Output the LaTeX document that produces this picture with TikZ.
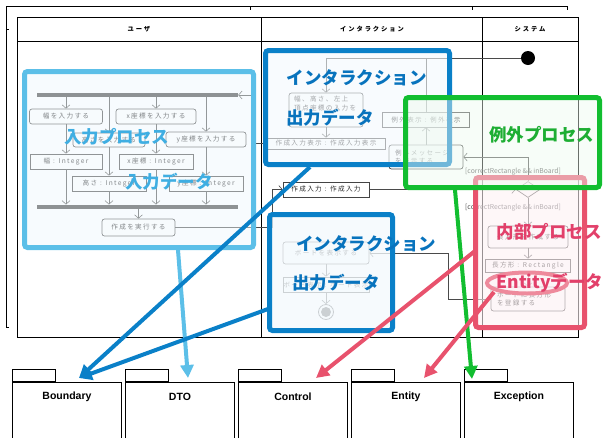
\documentclass[tikz,border=0pt]{standalone}
\usepackage{fontspec}
\newfontfamily\jp{Noto Sans CJK JP}
\newfontfamily\lsans{Liberation Sans}
\usetikzlibrary{arrows.meta,shapes.geometric,calc}
\definecolor{lblue}{HTML}{5CBFE8}
\definecolor{lbluet}{HTML}{3FAEE2}
\definecolor{lbfill}{HTML}{EEF7FC}
\definecolor{dblue}{HTML}{0A80C8}
\definecolor{dbluet}{HTML}{0873BD}
\definecolor{dbfill}{HTML}{F3F9FD}
\definecolor{grn}{HTML}{12BE30}
\definecolor{grnt}{HTML}{1DAE33}
\definecolor{gfill}{HTML}{EDFAEF}
\definecolor{pnk}{HTML}{E8526D}
\definecolor{pnkt}{HTML}{E2406A}
\definecolor{pfill}{HTML}{FDF1F4}
\definecolor{ellc}{HTML}{EE8A9C}
\definecolor{fl}{HTML}{4A4A4A}
\definecolor{bx}{HTML}{444444}
\definecolor{tx}{HTML}{2A2A2A}
\definecolor{barc}{HTML}{404040}
\definecolor{gtx}{HTML}{555555}
\begin{document}
\begin{tikzpicture}[x=1pt,y=-1pt,
  jps/.style={font=\jp\fontsize{6.6}{8.5}\selectfont\addfontfeature{LetterSpace=20}},
  act/.style={jps, draw=bx, line width=0.7pt, rounded corners=2.5pt, fill=white, text=tx, inner sep=0pt},
  obj/.style={jps, draw=bx, line width=0.7pt, fill=white, text=tx, inner sep=0pt},
  flow/.style={draw=fl, line width=0.6pt, -{Straight Barb[length=3.5pt,width=8pt]}},
  flowl/.style={draw=fl, line width=0.6pt},
  syncbar/.style={fill=barc, inner sep=0pt, minimum height=4.5pt},
  guard/.style={font=\jp\fontsize{6.8}{8}\selectfont, text=gtx, inner sep=0pt},
  hl/.style={line width=5pt, rounded corners=3pt, inner sep=0pt},
  bigl/.style={font=\jp\bfseries\fontsize{17.5}{18}\selectfont, inner sep=0pt},
  hdr/.style={font=\jp\bfseries\fontsize{6.3}{7}\selectfont\addfontfeature{LetterSpace=30}, inner sep=0pt},
  bigarrow/.style={line width=4pt, -{Triangle[length=13pt,width=13pt]}},
  pkg/.style={draw=black, line width=0.9pt, fill=white, inner sep=0pt},
  pkgl/.style={font=\lsans\bfseries\fontsize{10.5}{12}\selectfont, inner sep=0pt},
]
\useasboundingbox (0,0) rectangle (603,437);
% outer frame
\draw[line width=0.8pt] (9,327) -- (6,327) -- (6,6) -- (567,6) -- (567,10);
\draw[line width=0.8pt] (250,6) -- (250,10) (472,6) -- (472,10) (6,29) -- (9,29);
% swimlanes
\draw[line width=1pt] (17,17) rectangle (578,337);
\draw[line width=1pt] (17,41) -- (578,41) (261,17) -- (261,337) (482,17) -- (482,337);
\node[hdr] (hu) at (139,29) {ユーザ};
\node[hdr] (hi) at (372,29) {インタラクション};
\node[hdr] (hs) at (530,29) {システム};

% ---- user lane
\node[syncbar, minimum width=201pt] (fork) at (137.5,95) {};
\node[act, minimum width=73pt, minimum height=15pt] (w1) at (66,116.5) {幅を入力する};
\node[act, minimum width=72pt, minimum height=14pt] (h1) at (109,140) {高さを入力する};
\node[act, minimum width=80pt, minimum height=15pt] (x1) at (156,116.5) {x座標を入力する};
\node[act, minimum width=80pt, minimum height=15pt] (y1) at (206,139.5) {y座標を入力する};
\node[obj, minimum width=72pt, minimum height=15pt] (w2) at (66,161.5) {幅 : Integer};
\node[obj, minimum width=74pt, minimum height=15pt] (x2) at (156,161.5) {x座標 : Integer};
\node[obj, minimum width=74pt, minimum height=15pt] (h2) at (109,183.5) {高さ : Integer};
\node[obj, minimum width=74pt, minimum height=15pt] (y2) at (206,183.5) {y座標 : Integer};
\node[syncbar, minimum width=201pt] (join) at (137.5,207) {};
\node[act, minimum width=73pt, minimum height=17pt] (exec) at (138.5,227.5) {作成を実行する};

\foreach \b in {w1,h1,x1,y1}{\draw[flow] (\b.north |- fork.south) -- (\b.north);}
\draw[flow] (w1.south) -- (w2.north);
\draw[flow] (h1.south) -- (h2.north);
\draw[flow] (x1.south) -- (x2.north);
\draw[flow] (y1.south) -- (y2.north);
\foreach \b in {w2,h2,x2,y2}{\draw[flow] (\b.south) -- (\b.south |- join.north);}
\draw[flow] (exec.north |- join.south) -- (exec.north);

% ---- interaction lane
\node[circle, fill=black, minimum size=14pt, inner sep=0pt] (ini) at (528,58) {};
\node[act, minimum width=74pt, minimum height=34pt] (prompt) at (326,110) {};
\node[jps, text=tx, align=left, anchor=north west, inner sep=0pt] (prompttx) at (294,96) {幅、高さ、左上\\頂点座標の入力を};
\node[obj, minimum width=118pt, minimum height=11pt] (dispin) at (326,143.5) {作成入力表示 : 作成入力表示};
\node[obj, minimum width=86pt, minimum height=15pt] (cin) at (326,189.5) {作成入力 : 作成入力};
\node[obj, minimum width=87pt, minimum height=15pt] (edisp) at (426,119.5) {例外表示 : 例外表示};
\node[act, minimum width=74pt, minimum height=24pt, align=left, text width=62pt] (emsg) at (426,157) {例外メッセージ\\を表示する};
\node[act, minimum width=86pt, minimum height=22pt] (bshow) at (326,253) {ボードを表示する};
\node[obj, minimum width=86pt, minimum height=15pt] (bobj) at (326,284.5) {ボード表示 : ボード表示};
\node[circle, draw=barc, line width=0.8pt, minimum size=15pt, inner sep=0pt, fill=white] (fin) at (326,312) {};
\fill[barc] (fin.center) circle (5);

% ---- system lane
\node[diamond, draw=bx, line width=0.7pt, fill=white, minimum width=24pt, minimum height=16pt, inner sep=0pt, aspect=1.5] (dec) at (528,189.5) {};
\node[act, minimum width=80pt, minimum height=22pt] (rc) at (528,237) {長方形を作成する};
\node[obj, minimum width=85pt, minimum height=13pt] (robj) at (528,265.5) {長方形 : Rectangle};
\node[act, minimum width=74pt, minimum height=24pt, align=left, text width=62pt] (reg) at (528,299) {ボードに長方形\\を登録する};
\node[guard] (g1) at (513,172) {[correctRectangle \&\& inBoard]};
\node[guard] (g2) at (513,208) {[correctRectangle \&\& inBoard]};

% ---- flow edges
\draw[flow] (ini.west) -- (prompt.north |- ini.west) -- (prompt.north);
\draw[flowl] (edisp.north) -- (edisp.north |- ini.west);
\draw[flow] (prompt.south) -- (dispin.north);
\draw[flow] (dispin.west) -- (255,143.5) |- (fork.east);
\draw[flow] (exec.east) -- (272,227.5) |- (cin.west);
\draw[flow] (cin.east) -- (dec.west);
\draw[flow] (dec.north) |- (emsg.east);
\draw[flow] (emsg.north) -- (edisp.south);
\draw[flow] (dec.south) -- (rc.north);
\draw[flow] (rc.south) -- (robj.north);
\draw[flow] (robj.south) -- (reg.north);
\draw[flow] (reg.west) -- (448,299) |- (bshow.east);
\draw[flow] (bshow.south) -- (bobj.north);
\draw[flow] (bobj.south) -- (fin.north);

% ---- highlight overlays
\node[hl, draw=lblue, fill=lbfill, fill opacity=0.45, minimum width=229pt, minimum height=176pt] (hlin) at (139,159.5) {};
\node[hl, draw=dblue, fill=dbfill, fill opacity=0.6, minimum width=184pt, minimum height=114pt] (hlb1) at (357.5,107.5) {};
\node[hl, draw=dblue, fill=dbfill, fill opacity=0.78, minimum width=123pt, minimum height=116pt] (hlb2) at (331,272.5) {};
\node[hl, draw=pnk, fill=pfill, fill opacity=0.6, minimum width=109pt, minimum height=150pt] (hlp) at (530,252.5) {};
\node[ellipse, draw=ellc, line width=4pt, fill=pfill, fill opacity=0.5, minimum width=80pt, minimum height=21pt, inner sep=0pt] (hle) at (527,283) {};
\node[hl, draw=grn, fill=gfill, fill opacity=0.45, minimum width=194pt, minimum height=90pt] (hlg) at (502.5,142.5) {};

\node[bigl, text=lbluet] (l1) at (116.5,137) {入力プロセス};
\node[bigl, text=lbluet] (l2) at (169,182) {入力データ};
\node[bigl, text=dbluet] (l3) at (356.5,78) {インタラクション};
\node[bigl, text=dbluet] (l4) at (330,118) {出力データ};
\node[bigl, text=dbluet] (l5) at (366,244) {インタラクション};
\node[bigl, text=dbluet] (l6) at (336,283) {出力データ};
\node[bigl, text=grnt] (l7) at (541.5,135) {例外プロセス};
\node[bigl, text=pnkt] (l8) at (549,232) {内部プロセス};
\node[bigl, text=pnkt] (l9) at (550,283) {Entityデータ};

% ---- packages
\foreach \nm/\lab/\px in {pB/Boundary/12, pD/DTO/125, pC/Control/238, pE/Entity/351, pX/Exception/464}{
  \node[pkg, minimum width=109pt, minimum height=60pt, anchor=north west] (\nm) at (\px,382) {};
  \node[pkg, minimum width=43pt, minimum height=12pt, anchor=south west] (\nm t) at (\nm.north west) {};
  \node[pkgl] (\nm l) at ($(\nm.north)+(0,15)$) {\lab};
}

% ---- mapping arrows
\coordinate (srcB1) at (310,167);
\coordinate (srcB2) at (268,309);
\coordinate (srcD) at (178,250);
\coordinate (srcC) at (475,251);
\coordinate (srcE) at (494,292);
\coordinate (srcX) at (455,190);
\coordinate (tipB) at (79,378);
\coordinate (tipD) at (188,378);
\coordinate (tipC) at (316,378);
\coordinate (tipE) at (424,378);
\coordinate (tipX) at (472,379);
\draw[bigarrow, draw=lblue] (srcD) -- (tipD);
\draw[bigarrow, draw=dblue] (srcB1) -- (tipB);
\draw[bigarrow, draw=dblue] (srcB2) -- (tipB);
\draw[bigarrow, draw=grn] (srcX) -- (tipX);
\draw[bigarrow, draw=pnk] (srcC) -- (tipC);
\draw[bigarrow, draw=pnk] (srcE) -- (tipE);
\end{tikzpicture}
\end{document}
